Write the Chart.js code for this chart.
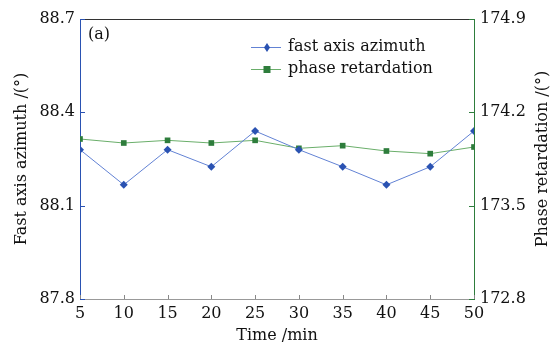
<!DOCTYPE html>
<html>
<head>
<meta charset="UTF-8">
<title>Fast axis azimuth and phase retardation</title>
<script src="https://cdn.jsdelivr.net/npm/chart.js"></script>
<style>
  html, body { margin: 0; padding: 0; background: #fff; }
  #wrap { width: 553px; height: 345px; }
</style>
</head>
<body>
<div id="wrap"><canvas id="c"></canvas></div>
<script>
  const times = [5, 10, 15, 20, 25, 30, 35, 40, 45, 50];
  const azimuth = [88.28, 88.167, 88.28, 88.225, 88.34, 88.28, 88.225, 88.167, 88.225, 88.34];
  const retardation = [174.0, 173.97, 173.99, 173.97, 173.99, 173.93, 173.95, 173.91, 173.89, 173.94];
  const leftTicks = [87.8, 88.1, 88.4, 88.7];
  const rightTicks = [172.8, 173.5, 174.2, 174.9];

  const FONT = "'DejaVu Serif', 'Liberation Serif', serif";
  const BLUE = '#2a52b2';
  const BLUE_LINE = '#6282d4';
  const GREEN = '#2e7d3c';
  const GREEN_LINE = '#6aae6a';

  // inward ticks, top border, right title, (a) and legend
  const decor = {
    id: 'decor',
    afterDraw(chart) {
      const ctx = chart.ctx;
      const a = chart.chartArea;
      const x = chart.scales.x, y = chart.scales.y, y1 = chart.scales.y1;
      ctx.save();
      ctx.lineWidth = 1;
      ctx.strokeStyle = '#333';
      ctx.beginPath();
      ctx.moveTo(a.left, a.top + 0.5); ctx.lineTo(a.right, a.top + 0.5);
      ctx.stroke();

      ctx.strokeStyle = BLUE;
      leftTicks.forEach(v => {
        const p = Math.round(y.getPixelForValue(v)) + 0.5;
        ctx.beginPath(); ctx.moveTo(a.left, p); ctx.lineTo(a.left + 5, p); ctx.stroke();
      });
      ctx.strokeStyle = GREEN;
      rightTicks.forEach(v => {
        const p = Math.round(y1.getPixelForValue(v)) + 0.5;
        ctx.beginPath(); ctx.moveTo(a.right, p); ctx.lineTo(a.right - 5, p); ctx.stroke();
      });
      ctx.strokeStyle = '#888';
      times.forEach(v => {
        const p = Math.round(x.getPixelForValue(v)) + 0.5;
        ctx.beginPath(); ctx.moveTo(p, a.bottom); ctx.lineTo(p, a.bottom - 4); ctx.stroke();
      });

      ctx.fillStyle = '#111';
      ctx.font = '16px ' + FONT;
      ctx.textBaseline = 'middle';
      ctx.textAlign = 'left';
      ctx.fillText('(a)', a.left + 8, a.top + 16);

      // right axis title, reading bottom to top
      ctx.save();
      ctx.translate(543, (a.top + a.bottom) / 2);
      ctx.rotate(-Math.PI / 2);
      ctx.textAlign = 'center';
      ctx.fillText('Phase retardation /(°)', 0, 0);
      ctx.restore();

      // legend
      const items = [
        { label: chart.data.datasets[0].label, line: BLUE_LINE, fill: BLUE, style: 'rectRot', y: 47 },
        { label: chart.data.datasets[1].label, line: GREEN_LINE, fill: GREEN, style: 'rect', y: 69 }
      ];
      items.forEach(it => {
        ctx.strokeStyle = it.line;
        ctx.beginPath(); ctx.moveTo(251, it.y + 0.5); ctx.lineTo(281, it.y + 0.5); ctx.stroke();
        ctx.fillStyle = it.fill;
        ctx.beginPath();
        if (it.style === 'rectRot') {
          ctx.moveTo(267, it.y - 4); ctx.lineTo(270, it.y + 0.5); ctx.lineTo(267, it.y + 5); ctx.lineTo(264, it.y + 0.5);
        } else {
          ctx.rect(263.5, it.y - 3, 7, 7);
        }
        ctx.fill();
        ctx.fillStyle = '#111';
        ctx.fillText(it.label, 288, it.y);
      });
      ctx.restore();
    }
  };

  new Chart(document.getElementById('c'), {
    type: 'line',
    data: {
      labels: times,
      datasets: [{
        label: 'fast axis azimuth',
        data: azimuth,
        yAxisID: 'y',
        borderColor: BLUE_LINE,
        backgroundColor: BLUE,
        borderWidth: 1,
        pointStyle: 'rectRot',
        pointRadius: 4,
        pointBorderWidth: 0,
        tension: 0
      }, {
        label: 'phase retardation',
        data: retardation,
        yAxisID: 'y1',
        borderColor: GREEN_LINE,
        backgroundColor: GREEN,
        borderWidth: 1,
        pointStyle: 'rect',
        pointRadius: 4,
        pointBorderWidth: 0,
        tension: 0
      }]
    },
    options: {
      responsive: true,
      maintainAspectRatio: false,
      animation: false,
      layout: { padding: { top: 19, left: 0, right: 0, bottom: 0 } },
      plugins: { legend: { display: false }, tooltip: { enabled: false } },
      scales: {
        x: {
          type: 'linear',
          min: 5, max: 50,
          afterBuildTicks: s => { s.ticks = times.map(v => ({ value: v })); },
          grid: { display: false, drawTicks: false },
          border: { color: '#999', width: 1 },
          ticks: { color: '#111', font: { family: FONT, size: 16 }, padding: 5, maxRotation: 0 },
          title: { display: true, text: 'Time /min', color: '#111', font: { family: FONT, size: 16 }, padding: { top: -5, bottom: 0 } },
          afterFit: s => { s.height = 46; }
        },
        y: {
          position: 'left',
          min: 87.8, max: 88.7,
          afterBuildTicks: s => { s.ticks = leftTicks.map(v => ({ value: v })); },
          grid: { display: false, drawTicks: false },
          border: { color: BLUE, width: 1 },
          ticks: { color: '#111', font: { family: FONT, size: 16 }, padding: 5, callback: v => v.toFixed(1) },
          title: { display: true, text: 'Fast axis azimuth /(°)', color: '#111', font: { family: FONT, size: 16 }, padding: { top: 12, bottom: 0 } },
          afterFit: s => { s.width = 80; }
        },
        y1: {
          position: 'right',
          min: 172.8, max: 174.9,
          afterBuildTicks: s => { s.ticks = rightTicks.map(v => ({ value: v })); },
          grid: { display: false, drawTicks: false },
          border: { color: GREEN, width: 1 },
          ticks: { color: '#111', font: { family: FONT, size: 16 }, padding: 6, callback: v => v.toFixed(1) },
          afterFit: s => { s.width = 79; }
        }
      }
    },
    plugins: [decor]
  });
</script>
</body>
</html>
